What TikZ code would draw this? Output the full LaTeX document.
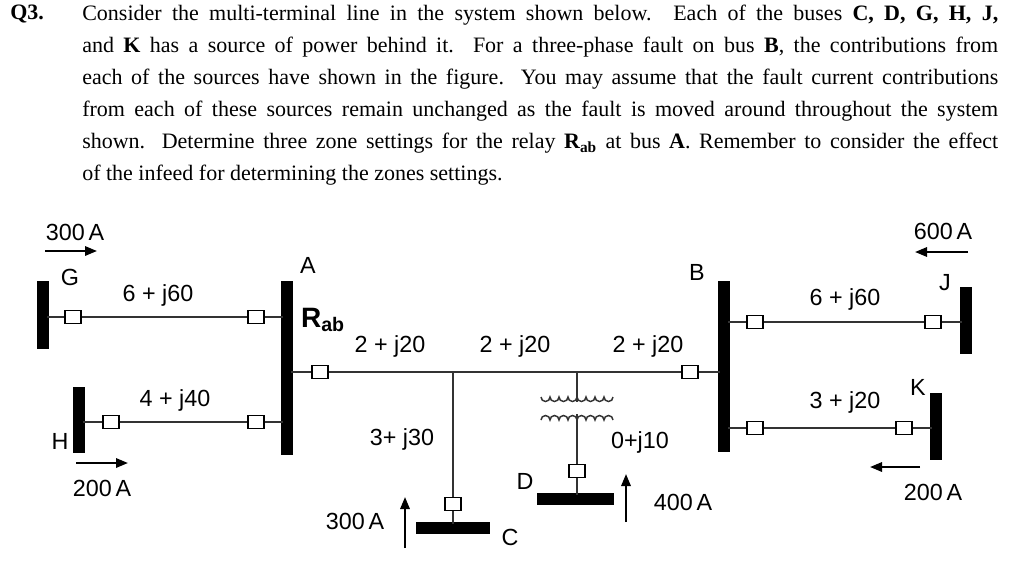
\documentclass[tikz,border=0pt]{standalone}
\usepackage{fontspec}
\setmainfont{Liberation Serif}
\setsansfont{Liberation Sans}
\usepackage{tikz}
\usetikzlibrary{arrows.meta}

\tikzset{
  bus/.style={line width=8.5, line cap=butt},
  brk/.style={draw, fill=white, minimum width=12, minimum height=10, inner sep=0pt, line width=0.9},
  lbl/.style={inner sep=0.75pt, font=\sffamily\fontsize{17.5}{20}\selectfont},
  ln/.style={line width=1.1, draw=black!80},
  flow/.style={line width=1.6, -{Triangle[length=9pt,width=7pt]}}
}

\begin{document}
\begin{tikzpicture}[x=0.75pt,y=0.75pt,yscale=-1,xscale=1]
\useasboundingbox (0,0) rectangle (1012,561);

% question text
\draw (10,5) node [anchor=north west][inner sep=0pt][font=\fontsize{16.5}{24}\selectfont\bfseries] (qn) {Q3.};
\draw (82,5) node [anchor=north west][inner sep=0pt][text width=687pt,align=justify,font=\fontsize{16.5}{24}\selectfont] (q) {Consider the multi-terminal line in the system shown below. Each of the buses \textbf{C, D, G, H, J,}\linebreak
and \textbf{K} has a source of power behind it. For a three-phase fault on bus \textbf{B}, the contributions from\linebreak
each of the sources have shown in the figure. You may assume that the fault current contributions\linebreak
from each of these sources remain unchanged as the fault is moved around throughout the system\linebreak
shown. Determine three zone settings for the relay \textbf{R\textsubscript{ab}} at bus \textbf{A}. Remember to consider the effect\linebreak
of the infeed for determining the zones settings.};

% buses
\draw [bus] (43,281) coordinate (g1) -- (43,349) coordinate (g2);
\draw [bus] (79,387) coordinate (h1) -- (79,453) coordinate (h2);
\draw [bus] (287,281) coordinate (a1) -- (287,455) coordinate (a2);
\draw [bus] (724,281) coordinate (b1) -- (724,452) coordinate (b2);
\draw [bus] (966,287) coordinate (j1) -- (966,354) coordinate (j2);
\draw [bus] (936,393) coordinate (k1) -- (936,460) coordinate (k2);
\draw [bus] (416,528) coordinate (c1) -- (490,528) coordinate (c2);
\draw [bus] (537,499) coordinate (d1) -- (614,499) coordinate (d2);

% line ends on the buses
\coordinate (gG) at (47,317);   \coordinate (aG) at (283,317);
\coordinate (hH) at (83,422);   \coordinate (aH) at (283,422);
\coordinate (aB) at (291,372);  \coordinate (bA) at (720,372);
\coordinate (bJ) at (728,322);  \coordinate (jJ) at (962,322);
\coordinate (bK) at (728,428);  \coordinate (kK) at (932,428);
\coordinate (cC) at (453,524);  \coordinate (dD) at (577,495);
\coordinate (jab) at (453,372);
\coordinate (jtr) at (577,372);
\coordinate (tr1) at (577,402);
\coordinate (tr2) at (577,414);

% lines
\draw [ln] (gG) -- (aG);
\draw [ln] (hH) -- (aH);
\draw [ln] (aB) -- (bA);
\draw [ln] (bJ) -- (jJ);
\draw [ln] (bK) -- (kK);
\draw [ln] (jab) -- (cC);
\draw [ln] (jtr) -- (tr1);
\draw [ln] (tr2) -- (dD);

% transformer
\draw [ln] (541,397) arc (180:0:4.5) arc (180:0:4.5) arc (180:0:4.5) arc (180:0:4.5) arc (180:0:4.5) arc (180:0:4.5) arc (180:0:4.5) arc (180:0:4.5);
\draw [ln] (541,420) arc (180:360:4.5) arc (180:360:4.5) arc (180:360:4.5) arc (180:360:4.5) arc (180:360:4.5) arc (180:360:4.5) arc (180:360:4.5) arc (180:360:4.5);

% breakers
\node [brk] (bg) at (73,317) {};
\node [brk] (bag) at (256,317) {};
\node [brk] (bh) at (111,422) {};
\node [brk] (bah) at (256,422) {};
\node [brk] (bab) at (320,372) {};
\node [brk] (bba) at (690,372) {};
\node [brk] (bc) at (453,504) {};
\node [brk] (bd) at (577,471) {};
\node [brk] (bbj) at (755,322) {};
\node [brk] (bj) at (933,322) {};
\node [brk] (bbk) at (755,428) {};
\node [brk] (bk) at (904,428) {};

% current arrows
\coordinate (fg0) at (45,251);  \coordinate (fg1) at (97,251);
\coordinate (fh0) at (76,463);  \coordinate (fh1) at (128,463);
\coordinate (fj0) at (968,252); \coordinate (fj1) at (915,252);
\coordinate (fk0) at (920,467); \coordinate (fk1) at (870,467);
\coordinate (fc0) at (405,548); \coordinate (fc1) at (405,497);
\coordinate (fd0) at (626,522); \coordinate (fd1) at (626,474);
\draw [flow] (fg0) -- (fg1);
\draw [flow] (fh0) -- (fh1);
\draw [flow] (fj0) -- (fj1);
\draw [flow] (fk0) -- (fk1);
\draw [flow] (fc0) -- (fc1);
\draw [flow] (fd0) -- (fd1);

% labels
\draw (75,232) node [lbl] (iG) {300\,A};
\draw (70,277) node [lbl] (nG) {G};
\draw (158,295) node [lbl] (zAG) {6 + j60};
\draw (308,265) node [lbl] (nA) {A};
\draw (323,320) node [lbl] (rab) {\bfseries\fontsize{21}{22}\selectfont R\textsubscript{ab}};
\draw (390,346) node [lbl] (z1) {2 + j20};
\draw (515,346) node [lbl] (z2) {2 + j20};
\draw (648,346) node [lbl] (z3) {2 + j20};
\draw (175,400) node [lbl] (zAH) {4 + j40};
\draw (60,441) node [lbl] (nH) {H};
\draw (102,488) node [lbl] (iH) {200\,A};
\draw (402,439) node [lbl] (zC) {3+ j30};
\draw (355,521) node [lbl] (iC) {300\,A};
\draw (510,537) node [lbl] (nC) {C};
\draw (525,481) node [lbl] (nD) {D};
\draw (640,442) node [lbl] (zD) {0+j10};
\draw (683,502) node [lbl] (iD) {400\,A};
\draw (697,272) node [lbl] (nB) {B};
\draw (845,299) node [lbl] (zBJ) {6 + j60};
\draw (945,283) node [lbl] (nJ) {J};
\draw (943,231) node [lbl] (iJ) {600\,A};
\draw (845,402) node [lbl] (zBK) {3 + j20};
\draw (918,387) node [lbl] (nK) {K};
\draw (933,492) node [lbl] (iK) {200\,A};

\end{tikzpicture}
\end{document}
